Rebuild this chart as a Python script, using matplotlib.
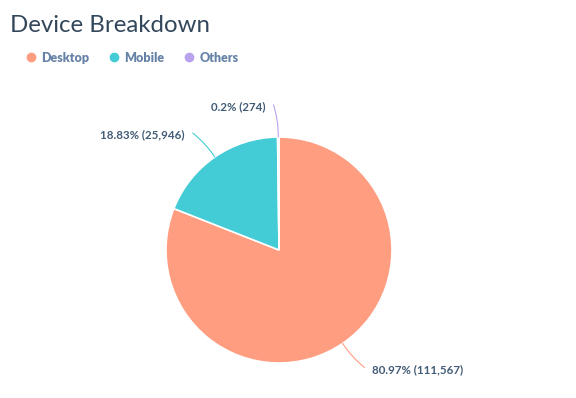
import numpy as np
import matplotlib
matplotlib.use("Agg")
import matplotlib.pyplot as plt
from matplotlib.lines import Line2D

# data
devices = ["Desktop", "Mobile", "Others"]
sessions = [111567, 25946, 274]
percents = ["80.97%", "18.83%", "0.2%"]
colors = ["#ff9d80", "#43ccd5", "#b9a2ee"]

LABEL_COLOR = "#425b76"
LEGEND_COLOR = "#6683a7"
TITLE_COLOR = "#33475b"

plt.rcParams["font.family"] = ["Lato", "DejaVu Sans"]

fig = plt.figure(figsize=(5.76, 3.98), dpi=100)
fig.patch.set_facecolor("white")

# pie axes: centre ~(279, 250) px, radius ~113 px
W, H = 576, 398
cx, cy, r = 279, 250, 113
ax = fig.add_axes([(cx - r) / W, (H - cy - r) / H, 2 * r / W, 2 * r / H])

wedges, _ = ax.pie(sessions, colors=colors, startangle=90, counterclock=False,
                   radius=1, wedgeprops=dict(edgecolor="white", linewidth=1.2))
ax.set_xlim(-1, 1)
ax.set_ylim(-1, 1)
ax.set_aspect("equal")
ax.axis("off")

# labels with thin leader lines
for w, pct, n, col in zip(wedges, percents, sessions, colors):
    mid = np.deg2rad((w.theta1 + w.theta2) / 2)
    end = mid + np.deg2rad(1.8)
    x0, y0 = np.cos(mid), np.sin(mid)
    x1, y1 = 1.285 * np.cos(end), 1.285 * np.sin(end)
    ax.annotate("", xy=(x0, y0), xytext=(x1, y1),
                arrowprops=dict(arrowstyle="-", color=col, lw=0.8,
                                shrinkA=0, shrinkB=0,
                                connectionstyle="arc3,rad=-0.08"),
                annotation_clip=False)
    side = 1 if x1 > 0 else -1
    ax.text(x1 + side * 0.07, y1 - 0.018, f"{pct} ({n:,})",
            ha="left" if side > 0 else "right", va="center",
            fontsize=8.3, fontweight="bold", color=LABEL_COLOR,
            clip_on=False)

fig.text(10 / W, 1 - 25 / H, "Device Breakdown", fontsize=17.3,
         color=TITLE_COLOR, ha="left", va="center")

handles = [Line2D([], [], marker="o", linestyle="", markersize=6,
                  markerfacecolor=c, markeredgecolor=c) for c in colors]
leg = fig.legend(handles, devices, loc="center left",
                 bbox_to_anchor=(26 / W, 1 - 57.5 / H), ncol=3,
                 frameon=False, borderpad=0, borderaxespad=0,
                 handlelength=0.8, handletextpad=0.4, columnspacing=1.6,
                 prop=dict(size=9, weight="heavy"))
for t in leg.get_texts():
    t.set_color(LEGEND_COLOR)

fig.savefig("out.png", dpi=100, facecolor="white")
